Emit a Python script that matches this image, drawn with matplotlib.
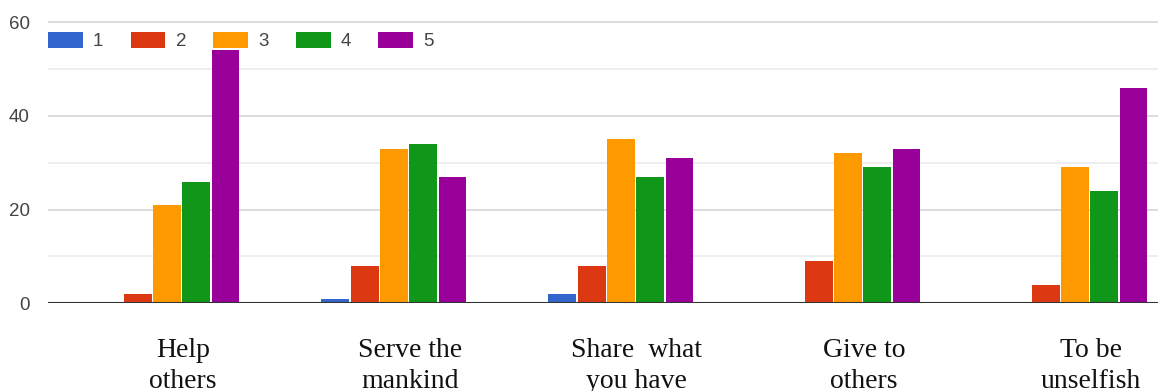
import numpy as np
import matplotlib
matplotlib.use('Agg')
import matplotlib.pyplot as plt
from matplotlib.ticker import MultipleLocator

categories = ["Help\nothers", "Serve the\nmankind", "Share  what\nyou have", "Give to\nothers", "To be\nunselfish"]
ratings = ["1", "2", "3", "4", "5"]
counts_1 = [0, 1, 2, 0, 0]
counts_2 = [2, 8, 8, 9, 4]
counts_3 = [21, 33, 35, 32, 29]
counts_4 = [26, 34, 27, 29, 24]
counts_5 = [54, 27, 31, 33, 46]
colors = ['#3366cc', '#dc3912', '#ff9900', '#109618', '#990099']

W, H = 1158, 391
fig = plt.figure(figsize=(W / 100, H / 100), dpi=100)

# axes placement in pixels (y=0 at 303, 4.683 px per unit)
px_unit = 4.683
y0_px = 303.3
ymax = 61
left_px = 48
ax = fig.add_axes([left_px / W, 1 - y0_px / H, 1 - left_px / W, ymax * px_unit / H])

x = np.arange(len(categories))
step = 0.129
width = 0.123
series = [counts_1, counts_2, counts_3, counts_4, counts_5]
for k, (vals, col, lab) in enumerate(zip(series, colors, ratings)):
    ax.bar(x + (k - 2) * step, vals, width=width, color=col, label=lab, zorder=3)

ax.set_xlim(-0.524, 4.366)
ax.set_ylim(0, ymax)

ax.yaxis.set_major_locator(MultipleLocator(20))
ax.yaxis.set_minor_locator(MultipleLocator(10))
ax.grid(which='major', axis='y', color='#d6d6d6', lw=1.2, zorder=0)
ax.grid(which='minor', axis='y', color='#ebebeb', lw=1.2, zorder=0)
ax.axhline(0, color='#333333', lw=1.5, zorder=4)

for s in ax.spines.values():
    s.set_visible(False)

ax.tick_params(axis='y', which='both', length=0, pad=13, labelsize=13.5, labelcolor='#444444')
ax.set_yticks([0, 20, 40, 60])
ax.set_yticklabels(['0', '20', '40', '60'], family='Liberation Sans')

ax.set_xticks(x + 0.07)
ax.set_xticklabels(categories, family='Liberation Serif', fontsize=20, color='#111111', linespacing=1.3)
ax.tick_params(axis='x', length=0, pad=25)

leg = fig.legend(loc='center left', bbox_to_anchor=(left_px / W, 1 - 41 / H), ncol=5,
                 frameon=False, borderpad=0, borderaxespad=0,
                 handlelength=1.85, handleheight=1.0, handletextpad=0.55, columnspacing=1.45,
                 prop={'family': 'Liberation Sans', 'size': 13.5})
for t in leg.get_texts():
    t.set_color('#444444')

fig.savefig('out.png', dpi=100)
